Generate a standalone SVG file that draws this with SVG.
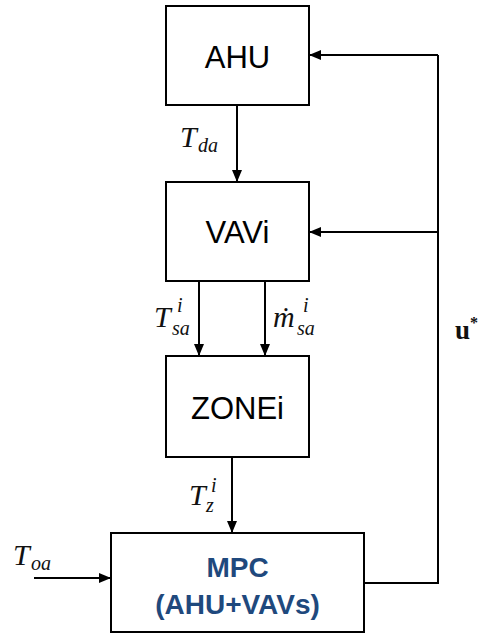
<svg xmlns="http://www.w3.org/2000/svg" width="480" height="633" viewBox="0 0 480 633">
<defs>
<style>
.box{fill:#fff;stroke:#000;stroke-width:2}
.wire{fill:none;stroke:#000;stroke-width:2}
.lbl{font-family:"Liberation Sans",Arial,sans-serif;font-size:31px;fill:#000;text-anchor:middle}
.mpc{font-family:"Liberation Sans",Arial,sans-serif;font-size:28px;font-weight:bold;fill:#1F497D;text-anchor:middle}
.m{font-family:"Liberation Serif","Times New Roman",serif;font-style:italic;fill:#111}
.big{font-size:30px}
.sm{font-size:20px}
</style>
<marker id="ah" markerWidth="12" markerHeight="12" viewBox="0 0 12 12" refX="12" refY="6" orient="auto" markerUnits="userSpaceOnUse">
<path d="M0,1 L12,6 L0,11 Z" fill="#000"/>
</marker>
</defs>
<g id="connectors">
<line class="wire" x1="237" y1="105" x2="237" y2="182" marker-end="url(#ah)"/>
<line class="wire" x1="199" y1="281" x2="199" y2="356" marker-end="url(#ah)"/>
<line class="wire" x1="265" y1="281" x2="265" y2="356" marker-end="url(#ah)"/>
<line class="wire" x1="232" y1="457" x2="232" y2="533" marker-end="url(#ah)"/>
<line class="wire" x1="34" y1="578" x2="111" y2="578" marker-end="url(#ah)"/>
<polyline class="wire" points="364,583 438,583 438,55"/>
<line class="wire" x1="438" y1="55" x2="309" y2="55" marker-end="url(#ah)"/>
<line class="wire" x1="438" y1="232" x2="309" y2="232" marker-end="url(#ah)"/>
</g>
<g id="ahu">
<rect class="box" x="166" y="6" width="143" height="99"/>
<text class="lbl" x="237.5" y="68">AHU</text>
</g>
<g id="vav">
<rect class="box" x="166" y="182" width="143" height="99"/>
<text class="lbl" x="237.5" y="243">VAVi</text>
</g>
<g id="zone">
<rect class="box" x="166" y="356" width="143" height="101"/>
<text class="lbl" x="237.5" y="419">ZONEi</text>
</g>
<g id="mpc">
<rect class="box" x="111" y="533" width="253" height="99"/>
<text class="mpc" x="237.5" y="577">MPC</text>
<text class="mpc" x="237.5" y="614">(AHU+VAVs)</text>
</g>
<g id="labels">
<text class="m" x="180" y="147"><tspan class="big">T</tspan><tspan class="sm" x="198" y="152">da</tspan></text>
<text class="m" x="154" y="327"><tspan class="big">T</tspan><tspan class="sm" x="177" y="312">i</tspan><tspan class="sm" x="172" y="335">sa</tspan></text>
<text class="m" x="273" y="327"><tspan class="big">ṁ</tspan><tspan class="sm" x="303" y="312">i</tspan><tspan class="sm" x="297" y="335">sa</tspan></text>
<text class="m" x="189" y="505"><tspan class="big">T</tspan><tspan class="sm" x="211" y="492">i</tspan><tspan class="sm" x="206" y="512">z</tspan></text>
<text class="m" x="13" y="565"><tspan class="big">T</tspan><tspan class="sm" x="31" y="570">oa</tspan></text>
<text x="455" y="339" style="font-family:'Liberation Serif',serif;font-weight:bold;font-size:27px;fill:#111">u<tspan style="font-size:16px" dy="-11">*</tspan></text>
</g>
</svg>
